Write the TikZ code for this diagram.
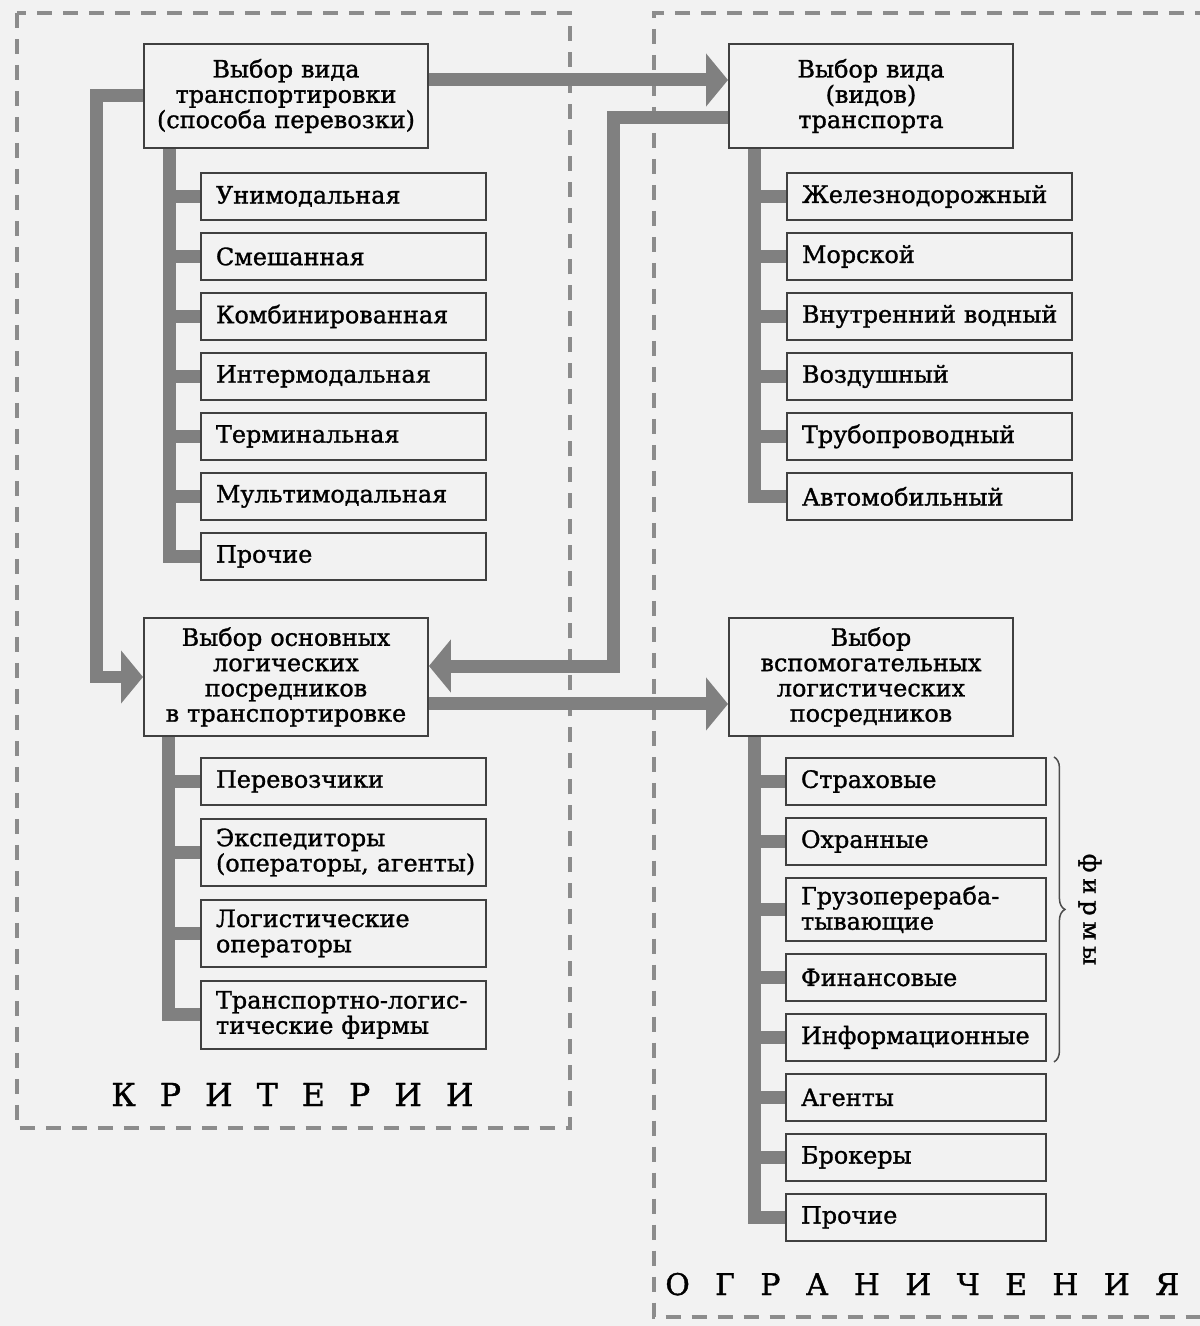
\documentclass[tikz,border=0pt]{standalone}
\usepackage{fontspec}
\setmainfont{DejaVu Serif}[FakeBold=1.2]
\usetikzlibrary{arrows.meta,positioning,decorations.pathreplacing}

\begin{document}
\begin{tikzpicture}[
    x=0.02cm, y=-0.02cm,
    node distance=0.22cm,
    font=\fontsize{13.6pt}{14.4pt}\selectfont,
    choice/.style={rectangle,draw=black!75,line width=0.04cm,align=center,text width=5.4cm,inner xsep=0.14cm,minimum height=2.08cm},
    option/.style={rectangle,draw=black!75,line width=0.04cm,align=left,text width=5.1cm,inner xsep=0.3cm,minimum height=0.94cm},
    firm/.style={option,text width=4.6cm},
    link/.style={draw=black!50,line width=0.26cm},
    flow/.style={link,-{Triangle[length=0.44cm,width=1.04cm]}},
    zone/.style={draw=black!45,line width=0.08cm,dash pattern=on 0.3cm off 0.22cm},
    title/.style={font=\fontsize{18pt}{20pt}\selectfont,inner sep=0pt,anchor=base west}
]
    \fill[black!5] (0,0) rectangle (1200,1326);
    \useasboundingbox (0,0) rectangle (1200,1326);

    % Frames
    \draw[zone] (17,13) rectangle (570,1128);
    \draw[zone] (1210,13) -- (654,13) -- (654,1317) -- (1210,1317);
    \node[title] (crit) at (111,1106) {\addfontfeature{LetterSpace=76}КРИТЕРИИ};
    \node[title,font=\fontsize{17pt}{19pt}\selectfont] (lim) at (665,1295) {\addfontfeature{LetterSpace=85}ОГРАНИЧЕНИЯ};

    % Nodes
    \node[choice,anchor=north west] (tmode) at (143,43) {Выбор вида\\транспортировки\\(способа~перевозки)};
    \node[option,below right=0.46cm and 1.14cm of tmode.south west] (uni) {Унимодальная};
    \node[option,below=of uni] (mixed) {Смешанная};
    \node[option,below=of mixed] (comb) {Комбинированная};
    \node[option,below=of comb] (inter) {Интермодальная};
    \node[option,below=of inter] (term) {Терминальная};
    \node[option,below=of term] (multi) {Мультимодальная};
    \node[option,below=of multi] (othA) {Прочие};

    \node[choice,anchor=north west] (tkind) at (728,43) {Выбор вида\\(видов)\\транспорта};
    \node[option,below right=0.46cm and 1.16cm of tkind.south west] (rail) {Железнодорожный};
    \node[option,below=of rail] (sea) {Морской};
    \node[option,below=of sea] (river) {Внутренний~водный};
    \node[option,below=of river] (air) {Воздушный};
    \node[option,below=of air] (pipe) {Трубопроводный};
    \node[option,below=of pipe] (road) {Автомобильный};

    \node[choice,minimum height=2.36cm,anchor=north west] (main) at (143,617) {Выбор основных\\логических\\посредников\\в~транспортировке};
    \node[option,below right=0.4cm and 1.14cm of main.south west] (carr) {Перевозчики};
    \node[option,minimum height=1.34cm,below=0.24cm of carr] (fwd) {Экспедиторы\\(операторы,~агенты)};
    \node[option,minimum height=1.34cm,below=0.24cm of fwd] (lops) {Логистические\\операторы};
    \node[option,minimum height=1.36cm,below=0.24cm of lops] (tlf) {Транспортно-логис-\\тические~фирмы};

    \node[choice,minimum height=2.36cm,anchor=north west] (aux) at (728,617) {Выбор\\вспомогательных\\логистических\\посредников};
    \node[firm,below right=0.4cm and 1.14cm of aux.south west] (ins) {Страховые};
    \node[firm,below=of ins] (guard) {Охранные};
    \node[firm,minimum height=1.26cm,below=of guard] (cargo) {Грузоперераба-\\тывающие};
    \node[firm,below=of cargo] (fin) {Финансовые};
    \node[firm,below=of fin] (info) {Информационные};
    \node[firm,below=of info] (agt) {Агенты};
    \node[firm,below=of agt] (brk) {Брокеры};
    \node[firm,below=of brk] (othB) {Прочие};

    \draw[black!70,line width=0.03cm,decorate,decoration={brace,amplitude=0.22cm}]
        ([xshift=0.14cm]ins.north east) -- ([xshift=0.14cm]info.south east)
        node[midway,xshift=0.72cm,rotate=-90,text=black] (firms) {\addfontfeature{LetterSpace=25}фирмы};

    % Edges
    \draw[flow] ([yshift=0.32cm]tmode.east) -- ([yshift=0.32cm]tkind.west);
    \draw[flow] (tmode.west) -- ++(-0.94cm,0) |- (main.west);
    \draw[flow] ([yshift=-0.44cm]tkind.west) -- ++(-2.3cm,0) |- ([yshift=0.22cm]main.east);
    \draw[flow] ([yshift=-0.54cm]main.east) -- ([yshift=-0.54cm]aux.west);

    \foreach \n in {uni,mixed,comb,inter,term,multi,othA}
        \draw[link] ([xshift=0.54cm]tmode.south west) |- (\n.west);
    \foreach \n in {rail,sea,river,air,pipe,road}
        \draw[link] ([xshift=0.52cm]tkind.south west) |- (\n.west);
    \foreach \n in {carr,fwd,lops,tlf}
        \draw[link] ([xshift=0.52cm]main.south west) |- (\n.west);
    \foreach \n in {ins,guard,cargo,fin,info,agt,brk,othB}
        \draw[link] ([xshift=0.52cm]aux.south west) |- (\n.west);
\end{tikzpicture}
\end{document}
